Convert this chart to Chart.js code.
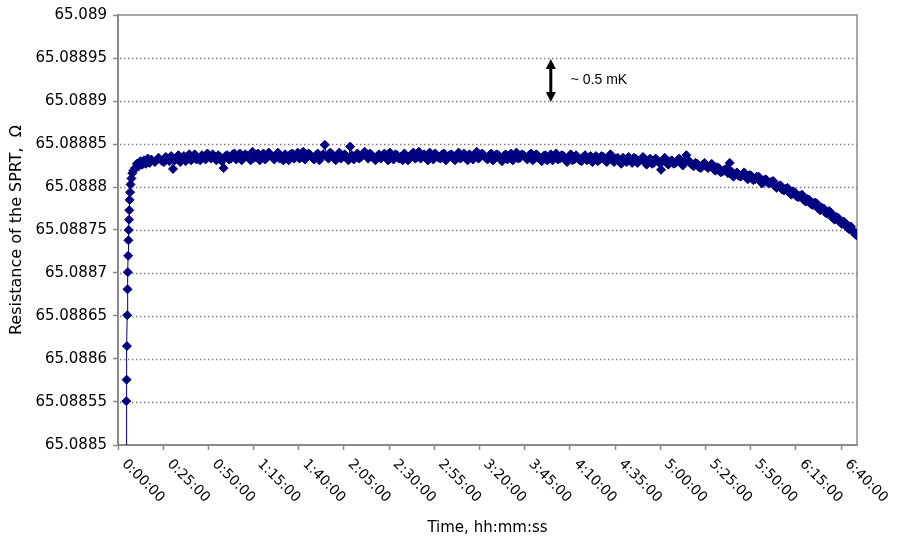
<!DOCTYPE html>
<html>
<head>
<meta charset="utf-8">
<script src="https://cdn.jsdelivr.net/npm/chart.js"></script>
<style>
  html, body { margin: 0; padding: 0; background: #fff; }
</style>
</head>
<body>
<canvas id="sprtChart" width="899" height="539"></canvas>
<script>
// elapsed time, minutes
const timeMin = [
  0, 0.17, 0.33, 0.5, 0.67, 0.83, 1, 1.17, 1.33, 1.5, 1.67, 1.83, 2, 2.25, 2.5, 3,
  3.5, 4, 5, 6, 7, 8, 9, 10, 11, 12, 13, 14, 16, 18, 20,
  21, 22, 23, 24, 25, 26, 27, 28, 29, 30, 31, 32, 33, 34, 35, 36, 37, 38, 39, 40,
  41, 42, 43, 44, 45, 46, 47, 48, 49, 50, 51, 52, 53, 54, 55, 56, 57, 58, 59, 60,
  61, 62, 63, 64, 65, 66, 67, 68, 69, 70, 71, 72, 73, 74, 75, 76, 77, 78, 79, 80,
  81, 82, 83, 84, 85, 86, 87, 88, 89, 90, 91, 92, 93, 94, 95, 96, 97, 98, 99, 100,
  101, 102, 103, 104, 105, 106, 107, 108, 109, 110, 111, 112, 113, 114, 115, 116, 117, 118, 119, 120,
  121, 122, 123, 124, 125, 126, 127, 128, 129, 130, 131, 132, 133, 134, 135, 136, 137, 138, 139, 140,
  141, 142, 143, 144, 145, 146, 147, 148, 149, 150, 151, 152, 153, 154, 155, 156, 157, 158, 159, 160,
  161, 162, 163, 164, 165, 166, 167, 168, 169, 170, 171, 172, 173, 174, 175, 176, 177, 178, 179, 180,
  181, 182, 183, 184, 185, 186, 187, 188, 189, 190, 191, 192, 193, 194, 195, 196, 197, 198, 199, 200,
  201, 202, 203, 204, 205, 206, 207, 208, 209, 210, 211, 212, 213, 214, 215, 216, 217, 218, 219, 220,
  221, 222, 223, 224, 225, 226, 227, 228, 229, 230, 231, 232, 233, 234, 235, 236, 237, 238, 239, 240,
  241, 242, 243, 244, 245, 246, 247, 248, 249, 250, 251, 252, 253, 254, 255, 256, 257, 258, 259, 260,
  261, 262, 263, 264, 265, 266, 267, 268, 269, 270, 271, 272, 273, 274, 275, 276, 277, 278, 279, 280,
  281, 282, 283, 284, 285, 286, 287, 288, 289, 290, 291, 292, 293, 294, 295, 296, 297, 298, 299, 300,
  301, 302, 303, 304, 305, 306, 307, 308, 309, 310, 311, 312, 313, 314, 315, 316, 317, 318, 319, 320,
  321, 322, 323, 324, 325, 326, 327, 328, 329, 330, 331, 332, 333, 334, 335, 336, 337, 338, 339, 340,
  341, 342, 343, 344, 345, 346, 347, 348, 349, 350, 351, 352, 353, 354, 355, 356, 357, 358, 359, 360,
  361, 362, 363, 364, 365, 366, 367, 368, 369, 370, 371, 372, 373, 374, 375, 376, 377, 378, 379, 380,
  381, 382, 383, 384, 385, 386, 387, 388, 389, 390, 391, 392, 393, 394, 395, 396, 397, 398, 399, 400,
  401, 402, 403, 404
];

// SPRT resistance, ohm
const resistance = [
  65.08846, 65.088551, 65.088576, 65.088615, 65.088651, 65.088681, 65.088701, 65.08872,
  65.088738, 65.08875, 65.088762, 65.088773, 65.088785, 65.088794, 65.088803, 65.08881,
  65.088816, 65.088819, 65.088822, 65.088827, 65.088824, 65.08883, 65.088826, 65.088831,
  65.088827, 65.088833, 65.088828, 65.088832, 65.088829, 65.088834, 65.08883,
  // 21-40
  65.088829, 65.088835, 65.088833, 65.08883, 65.088836, 65.088821, 65.088831, 65.088834, 65.088837, 65.088829,
  65.088833, 65.088836, 65.08883, 65.088834, 65.088838, 65.088831, 65.088835, 65.088838, 65.088832, 65.088833,
  // 41-60
  65.088831, 65.088837, 65.088835, 65.088832, 65.088839, 65.088836, 65.088833, 65.088838, 65.088834, 65.088831,
  65.088837, 65.088835, 65.08883, 65.088822, 65.088836, 65.088837, 65.088832, 65.088833, 65.088838, 65.088839,
  // 61-80
  65.088832, 65.088835, 65.088839, 65.088831, 65.088834, 65.088838, 65.088836, 65.088833, 65.088831, 65.088841,
  65.088834, 65.088836, 65.088839, 65.088831, 65.088835, 65.088839, 65.088832, 65.088834, 65.08884, 65.088837,
  // 81-100
  65.088835, 65.088832, 65.088837, 65.08884, 65.088833, 65.088835, 65.088831, 65.088838, 65.088836, 65.088831,
  65.088838, 65.088839, 65.088833, 65.088836, 65.08884, 65.088833, 65.088835, 65.088841, 65.088832, 65.088834,
  // 101-120
  65.088839, 65.088837, 65.088834, 65.088832, 65.088836, 65.088839, 65.088831, 65.088835, 65.088838, 65.088849,
  65.088836, 65.088833, 65.08884, 65.088838, 65.088834, 65.088831, 65.088837, 65.08884, 65.088833, 65.088836,
  // 121-140
  65.088838, 65.088834, 65.088831, 65.088847, 65.088837, 65.088832, 65.088835, 65.088839, 65.088833, 65.088835,
  65.088838, 65.088841, 65.088836, 65.088833, 65.088839, 65.088837, 65.088834, 65.088831, 65.088836, 65.088838,
  // 141-160
  65.088833, 65.088836, 65.088839, 65.088834, 65.088831, 65.08884, 65.088835, 65.088832, 65.088838, 65.088837,
  65.088833, 65.088835, 65.088831, 65.088839, 65.088836, 65.088831, 65.088834, 65.088838, 65.08884, 65.088833,
  // 161-180
  65.088835, 65.088841, 65.088833, 65.088836, 65.088838, 65.088834, 65.088831, 65.08884, 65.088836, 65.088832,
  65.088839, 65.088837, 65.088834, 65.088833, 65.088838, 65.088839, 65.088831, 65.088835, 65.088837, 65.088838,
  // 181-200
  65.088834, 65.088831, 65.088837, 65.08884, 65.088833, 65.088836, 65.088839, 65.088833, 65.088831, 65.088838,
  65.088835, 65.088832, 65.088837, 65.088841, 65.088833, 65.088835, 65.088839, 65.088837, 65.088834, 65.088832,
  // 201-220
  65.088836, 65.088839, 65.088831, 65.088833, 65.088838, 65.088837, 65.088834, 65.08883, 65.088836, 65.088838,
  65.088832, 65.088835, 65.088839, 65.088831, 65.088835, 65.08884, 65.088833, 65.088834, 65.088838, 65.088837,
  // 221-240
  65.088835, 65.088832, 65.088837, 65.088839, 65.088831, 65.088833, 65.088838, 65.088836, 65.088832, 65.08883,
  65.088836, 65.088837, 65.088831, 65.088834, 65.088838, 65.088831, 65.088835, 65.088839, 65.088832, 65.088833,
  // 241-260
  65.088837, 65.088836, 65.088832, 65.088829, 65.088835, 65.088838, 65.088831, 65.088832, 65.088837, 65.088834,
  65.088831, 65.08883, 65.088835, 65.088837, 65.088831, 65.088833, 65.088836, 65.088829, 65.088834, 65.088836,
  // 261-280
  65.08883, 65.088832, 65.088836, 65.088835, 65.088831, 65.088829, 65.088834, 65.088838, 65.088832, 65.088829,
  65.088833, 65.088834, 65.08883, 65.088827, 65.088834, 65.088832, 65.088829, 65.088835, 65.088831, 65.088828,
  // 281-300
  65.088834, 65.088833, 65.088828, 65.08883, 65.088832, 65.088835, 65.088829, 65.088826, 65.088831, 65.088833,
  65.088827, 65.088828, 65.088833, 65.088831, 65.088828, 65.08882, 65.08883, 65.088834, 65.088828, 65.088826,
  // 301-320
  65.08883, 65.088831, 65.088827, 65.088828, 65.088831, 65.088833, 65.088828, 65.088825, 65.08883, 65.088837,
  65.088831, 65.088829, 65.088826, 65.088824, 65.088828, 65.088827, 65.088823, 65.088822, 65.088826, 65.088828,
  // 321-340
  65.088824, 65.088822, 65.088825, 65.088827, 65.088821, 65.088819, 65.088823, 65.088822, 65.088817, 65.088818,
  65.08882, 65.088821, 65.088816, 65.088828, 65.088818, 65.088812, 65.088815, 65.088817, 65.088813, 65.088812,
  // 341-360
  65.088815, 65.088817, 65.088811, 65.088809, 65.088814, 65.088813, 65.088808, 65.088809, 65.088812, 65.088812,
  65.088806, 65.088804, 65.088808, 65.088809, 65.088805, 65.088804, 65.088806, 65.088807, 65.088801, 65.088799,
  // 361-380
  65.088801, 65.088802, 65.088797, 65.088796, 65.088798, 65.088799, 65.088793, 65.088791, 65.088795, 65.088794,
  65.088789, 65.088788, 65.08879, 65.088791, 65.088785, 65.088783, 65.088786, 65.088785, 65.08878, 65.088779,
  // 381-400
  65.088782, 65.088781, 65.088775, 65.088773, 65.088776, 65.088775, 65.08877, 65.088769, 65.088772, 65.08877,
  65.088764, 65.088762, 65.088765, 65.088764, 65.088759, 65.088757, 65.08876, 65.088758, 65.088753, 65.088751,
  // 401-404
  65.088754, 65.08875, 65.088746, 65.088744
];

const xTickMinutes = [0, 25, 50, 75, 100, 125, 150, 175, 200, 225, 250, 275, 300, 325, 350, 375, 400];
const xTickLabels = ['0:00:00', '0:25:00', '0:50:00', '1:15:00', '1:40:00', '2:05:00', '2:30:00', '2:55:00',
  '3:20:00', '3:45:00', '4:10:00', '4:35:00', '5:00:00', '5:25:00', '5:50:00', '6:15:00', '6:40:00'];
const yTickLabels = ['65.0885', '65.08855', '65.0886', '65.08865', '65.0887', '65.08875',
  '65.0888', '65.08885', '65.0889', '65.08895', '65.089'];

const xMin = -4.43, xMax = 404.4;
const tickShift = 4.43;   // excel puts tick marks between categories
const axisGrey = '#8a8a8a';
const navy = '#000080';

const decor = {
  id: 'decor',
  beforeDatasetsDraw(chart) {
    const { ctx, chartArea: a, scales: { y } } = chart;
    ctx.save();
    // dotted gridlines
    ctx.strokeStyle = '#777';
    ctx.lineWidth = 1.3;
    ctx.setLineDash([1.4, 2.6]);
    y.ticks.forEach((t, i) => {
      if (i === 0 || i === y.ticks.length - 1) return;
      const py = Math.round(y.getPixelForValue(t.value)) + 0.5;
      ctx.beginPath();
      ctx.moveTo(a.left + 2, py);
      ctx.lineTo(a.right, py);
      ctx.stroke();
    });
    ctx.setLineDash([]);
    ctx.strokeStyle = axisGrey;
    ctx.lineWidth = 1.5;
    ctx.beginPath();
    ctx.moveTo(a.left, a.top);
    ctx.lineTo(a.right, a.top);
    ctx.lineTo(a.right, a.bottom);
    ctx.stroke();
    ctx.restore();
  },
  afterDraw(chart) {
    const { ctx, chartArea: a, scales: { x, y } } = chart;
    ctx.save();
    // rotated time labels
    ctx.fillStyle = '#000';
    ctx.font = '14px "DejaVu Sans"';
    ctx.textAlign = 'left';
    ctx.textBaseline = 'top';
    xTickMinutes.forEach((m, i) => {
      const px = x.getPixelForValue(m);
      ctx.save();
      ctx.translate(px + 3, a.bottom + 12);
      ctx.rotate(Math.PI / 4);
      ctx.fillText(xTickLabels[i], 0, 0);
      ctx.restore();
    });
    // ~0.5 mK double arrow
    const ax = x.getPixelForValue(235);
    const y1 = y.getPixelForValue(65.08895) + 1;
    const y2 = y.getPixelForValue(65.0889) + 1;
    ctx.fillStyle = '#000';
    ctx.strokeStyle = '#000';
    ctx.lineWidth = 3;
    ctx.beginPath();
    ctx.moveTo(ax, y1 + 8);
    ctx.lineTo(ax, y2 - 8);
    ctx.stroke();
    ctx.beginPath();
    ctx.moveTo(ax, y1); ctx.lineTo(ax - 5, y1 + 10); ctx.lineTo(ax + 5, y1 + 10); ctx.closePath();
    ctx.fill();
    ctx.beginPath();
    ctx.moveTo(ax, y2); ctx.lineTo(ax - 5, y2 - 10); ctx.lineTo(ax + 5, y2 - 10); ctx.closePath();
    ctx.fill();
    ctx.font = '14px "Liberation Sans"';
    ctx.textBaseline = 'middle';
    ctx.fillText('~ 0.5 mK', ax + 20, (y1 + y2) / 2);
    ctx.restore();
  }
};

new Chart(document.getElementById('sprtChart'), {
  type: 'scatter',
  data: {
    datasets: [{
      data: timeMin.map((t, i) => ({ x: t, y: resistance[i] })),
      showLine: true,
      borderColor: navy,
      borderWidth: 1,
      backgroundColor: navy,
      pointStyle: 'rectRot',
      pointRadius: 4.5,
      pointBorderWidth: 1,
      pointBorderColor: navy,
      pointBackgroundColor: navy
    }]
  },
  options: {
    responsive: false,
    animation: false,
    devicePixelRatio: 1,
    layout: { padding: { top: 15, right: 42, left: 0, bottom: 0 } },
    plugins: { legend: { display: false }, tooltip: { enabled: false } },
    scales: {
      x: {
        type: 'linear',
        min: xMin,
        max: xMax,
        afterBuildTicks: (s) => { s.ticks = xTickMinutes.map(m => ({ value: m - tickShift })); },
        afterFit: (s) => { s.height = 94; },
        ticks: { display: false },
        grid: { drawOnChartArea: false, drawTicks: true, tickLength: 5, tickColor: axisGrey, tickWidth: 1.5 },
        border: { color: axisGrey, width: 2 },
        title: {
          display: true,
          text: 'Time, hh:mm:ss',
          color: '#000',
          font: { family: 'DejaVu Sans', size: 15 },
          padding: { top: 0, bottom: 2 }
        }
      },
      y: {
        min: 65.0885,
        max: 65.089,
        afterFit: (s) => { s.width = 118; },
        ticks: {
          stepSize: 0.00005,
          color: '#000',
          padding: 6,
          font: { family: 'DejaVu Sans', size: 15 },
          callback: (v, i) => yTickLabels[i]
        },
        grid: { drawOnChartArea: false, drawTicks: true, tickLength: 5, tickColor: axisGrey, tickWidth: 1.5 },
        border: { color: axisGrey, width: 2 },
        title: {
          display: true,
          text: 'Resistance of the SPRT,  Ω',
          color: '#000',
          font: { family: 'DejaVu Sans', size: 16 },
          padding: { top: 7, bottom: 0 }
        }
      }
    }
  },
  plugins: [decor]
});
</script>
</body>
</html>
